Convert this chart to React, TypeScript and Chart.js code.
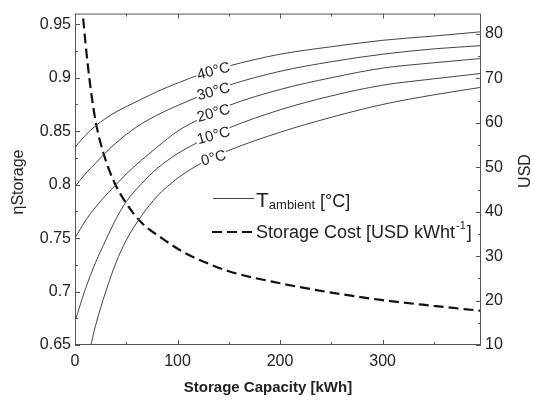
import React, { useEffect, useRef } from "react";
import { Chart, registerables } from "chart.js";

Chart.register(...registerables);

const FONT = '"Liberation Sans", Arial, Helvetica, sans-serif';

// Storage efficiency curves (left axis) vs storage capacity [kWh]
const capacityKWh = [0, 10, 20, 30, 40, 50, 65, 80, 100, 125, 150, 200, 250, 300, 350, 396];
const eta40C = [0.835, 0.846, 0.855, 0.862, 0.868, 0.873, 0.880, 0.887, 0.895, 0.904, 0.911, 0.922, 0.929, 0.935, 0.939, 0.943];
const eta30C = [0.798, 0.810, 0.820, 0.830, 0.839, 0.847, 0.857, 0.865, 0.874, 0.884, 0.893, 0.906, 0.915, 0.922, 0.927, 0.930];
const eta20C = [0.750, 0.766, 0.779, 0.790, 0.800, 0.810, 0.823, 0.835, 0.850, 0.863, 0.874, 0.889, 0.900, 0.909, 0.914, 0.918];
const eta10C = [0.672, 0.702, 0.727, 0.748, 0.768, 0.784, 0.801, 0.815, 0.829, 0.842, 0.853, 0.870, 0.883, 0.893, 0.899, 0.904];
const capacity0C = [15, 20, 30, 40, 50, 65, 80, 100, 125, 150, 200, 250, 300, 350, 396];
const eta0C = [0.648, 0.668, 0.700, 0.727, 0.748, 0.771, 0.789, 0.806, 0.821, 0.832, 0.849, 0.863, 0.875, 0.884, 0.891];

// Storage cost (right axis)
const costCapacityKWh = [8, 10, 14, 20, 28, 38, 50, 65, 85, 105, 125, 150, 200, 250, 300, 350, 396];
const costUSD = [83.5, 78.5, 70, 60.5, 53, 46.8, 41.9, 37.5, 34.0, 31.0, 28.8, 26.6, 23.9, 21.8, 20.1, 18.8, 17.7];

const tempLabels = ["40°C", "30°C", "20°C", "10°C", "0°C"];
const xMajorTicks = [0, 100, 200, 300];
const xMinorTicks = [50, 150, 250, 350];
const yMajorTicks = [0.65, 0.7, 0.75, 0.8, 0.85, 0.9, 0.95];
const yMinorTicks = [0.675, 0.725, 0.775, 0.825, 0.875, 0.925];
const y2MajorTicks = [10, 20, 30, 40, 50, 60, 70, 80];
const y2MinorTicks = [15, 25, 35, 45, 55, 65, 75];
const labelCapacity = 135;

const tempSeries: [number[], number[]][] = [
  [capacityKWh, eta40C],
  [capacityKWh, eta30C],
  [capacityKWh, eta20C],
  [capacityKWh, eta10C],
  [capacity0C, eta0C],
];

function interp(xs: number[], ys: number[], x: number) {
  for (let i = 0; i < xs.length - 1; i++) {
    if (x >= xs[i] && x <= xs[i + 1]) {
      const t = (x - xs[i]) / (xs[i + 1] - xs[i]);
      return ys[i] + t * (ys[i + 1] - ys[i]);
    }
  }
  return ys[ys.length - 1];
}

const toPts = (xs: number[], ys: number[]) => xs.map((x, i) => ({ x, y: ys[i] }));

const decorPlugin = {
  id: "decor",
  afterDatasetsDraw(chart: any) {
    const { ctx, scales } = chart;
    const sx = scales.x, sy = scales.y;
    ctx.save();
    ctx.font = `15px ${FONT}`;
    ctx.textAlign = "center";
    ctx.textBaseline = "middle";
    tempSeries.forEach(([xs, ys], i) => {
      const v = interp(xs, ys, labelCapacity);
      const px = sx.getPixelForValue(labelCapacity);
      const py = sy.getPixelForValue(v);
      ctx.save();
      ctx.translate(px, py);
      ctx.rotate((-15 * Math.PI) / 180);
      const w = ctx.measureText(tempLabels[i]).width;
      ctx.fillStyle = "#fff";
      ctx.fillRect(-w / 2 - 1, -6, w + 2, 12);
      ctx.fillStyle = "#222";
      ctx.fillText(tempLabels[i], 0, 1);
      ctx.restore();
    });
    ctx.restore();
  },
  afterDraw(chart: any) {
    const { ctx, chartArea: a, scales } = chart;
    const sx = scales.x, sy = scales.y, sy2 = scales.y2;
    ctx.save();
    ctx.strokeStyle = "#555";
    ctx.lineWidth = 1;
    ctx.strokeRect(a.left + 0.5, a.top + 0.5, a.right - a.left - 1, a.bottom - a.top - 1);
    const line = (x1: number, y1: number, x2: number, y2: number) => {
      ctx.beginPath();
      ctx.moveTo(x1, y1);
      ctx.lineTo(x2, y2);
      ctx.stroke();
    };
    const xt = (vals: number[], len: number) =>
      vals.forEach((v) => {
        const p = Math.round(sx.getPixelForValue(v)) + 0.5;
        line(p, a.bottom, p, a.bottom - len);
        line(p, a.top, p, a.top + len);
      });
    xt(xMajorTicks, 5);
    xt(xMinorTicks, 3);
    const yt = (vals: number[], len: number) =>
      vals.forEach((v) => {
        const p = Math.round(sy.getPixelForValue(v)) + 0.5;
        line(a.left, p, a.left + len, p);
      });
    yt(yMajorTicks, 5);
    yt(yMinorTicks, 3);
    const y2t = (vals: number[], len: number) =>
      vals.forEach((v) => {
        const p = Math.round(sy2.getPixelForValue(v)) + 0.5;
        line(a.right, p, a.right - len, p);
      });
    y2t(y2MajorTicks, 5);
    y2t(y2MinorTicks, 3);

    // Axis titles
    ctx.fillStyle = "#222";
    ctx.textAlign = "center";
    ctx.textBaseline = "middle";
    ctx.font = `bold 15px ${FONT}`;
    ctx.fillText("Storage Capacity [kWh]", 268, 388);
    ctx.save();
    ctx.translate(19, 182);
    ctx.rotate(-Math.PI / 2);
    ctx.font = `16px ${FONT}`;
    ctx.fillText("ηStorage", 0, 0);
    ctx.restore();
    ctx.save();
    ctx.translate(526, 171);
    ctx.rotate(-Math.PI / 2);
    ctx.font = `16px ${FONT}`;
    ctx.fillText("USD", 0, 0);
    ctx.restore();

    // Legend
    ctx.strokeStyle = "#444";
    ctx.lineWidth = 1;
    line(213, 198.5, 254, 198.5);
    ctx.strokeStyle = "#111";
    ctx.lineWidth = 2.2;
    ctx.setLineDash([10, 5]);
    line(212, 232, 254, 232);
    ctx.setLineDash([]);
    ctx.textAlign = "left";
    ctx.textBaseline = "alphabetic";
    let x = 256;
    ctx.font = `21px ${FONT}`;
    ctx.fillText("T", x, 207);
    x += ctx.measureText("T").width;
    ctx.font = `13px ${FONT}`;
    ctx.fillText("ambient", x, 209);
    x += ctx.measureText("ambient").width;
    ctx.font = `18px ${FONT}`;
    ctx.fillText(" [°C]", x, 207);
    x = 256;
    ctx.fillText("Storage Cost [USD kWht", x, 238);
    x += ctx.measureText("Storage Cost [USD kWht").width;
    ctx.font = `11px ${FONT}`;
    ctx.fillText("-1", x + 1, 229);
    x += ctx.measureText("-1").width + 2;
    ctx.font = `18px ${FONT}`;
    ctx.fillText("]", x, 238);
    ctx.restore();
  },
};

export default function App() {
  const ref = useRef<HTMLCanvasElement | null>(null);
  useEffect(() => {
    document.body.style.margin = "0";
    if (!ref.current) return;
    const tickFont = { family: FONT, size: 16 };
    const curveStyle = {
      showLine: true,
      pointRadius: 0,
      borderColor: "#444",
      borderWidth: 1,
      cubicInterpolationMode: "monotone" as const,
      yAxisID: "y",
    };
    const setTicks = (vals: number[]) => (s: any) => {
      s.ticks = vals.map((value) => ({ value }));
    };
    const chart = new Chart(ref.current, {
      type: "scatter",
      data: {
        datasets: [
          ...tempSeries.map(([xs, ys], i) => ({ ...curveStyle, label: tempLabels[i], data: toPts(xs, ys) })),
          {
            label: "Storage Cost",
            data: toPts(costCapacityKWh, costUSD),
            showLine: true,
            pointRadius: 0,
            borderColor: "#111",
            borderWidth: 2.2,
            borderDash: [10, 5],
            cubicInterpolationMode: "monotone" as const,
            yAxisID: "y2",
          },
        ],
      },
      options: {
        responsive: false,
        animation: false,
        events: [],
        layout: { padding: { top: 6, left: 0, right: 0, bottom: 0 } },
        plugins: { legend: { display: false }, tooltip: { enabled: false } },
        scales: {
          x: {
            type: "linear",
            position: "bottom",
            min: 0,
            max: 396,
            grid: { display: false, drawTicks: false },
            border: { display: false },
            afterBuildTicks: setTicks(xMajorTicks),
            ticks: {
              font: tickFont,
              color: "#222",
              padding: 7,
              maxRotation: 0,
              autoSkip: false,
              callback: (v: any) => String(v),
            },
            afterFit: (s: any) => {
              s.height = 55;
            },
          },
          y: {
            type: "linear",
            position: "left",
            min: 0.65,
            max: 0.96,
            grid: { display: false, drawTicks: false },
            border: { display: false },
            afterBuildTicks: setTicks(yMajorTicks),
            ticks: {
              font: tickFont,
              color: "#222",
              padding: 4,
              autoSkip: false,
              callback: (v: any) => String(Math.round(Number(v) * 1000) / 1000),
            },
            afterFit: (s: any) => {
              s.width = 75;
            },
          },
          y2: {
            type: "linear",
            position: "right",
            min: 10,
            max: 84.6,
            grid: { display: false, drawTicks: false },
            border: { display: false },
            afterBuildTicks: setTicks(y2MajorTicks),
            ticks: {
              font: tickFont,
              color: "#222",
              padding: 4,
              autoSkip: false,
              callback: (v: any) => String(v),
            },
            afterFit: (s: any) => {
              s.width = 53;
            },
          },
        },
      },
      plugins: [decorPlugin],
    });
    return () => chart.destroy();
  }, []);
  return (
    <div style={{ width: 534, height: 400, background: "#fff" }}>
      <canvas ref={ref} width={534} height={400} />
    </div>
  );
}
